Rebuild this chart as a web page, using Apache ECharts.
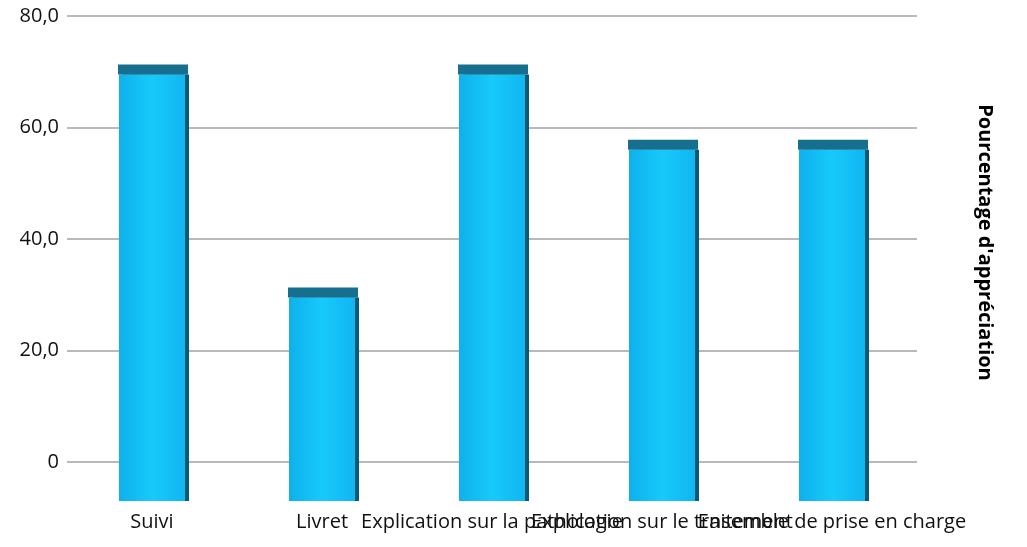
<!DOCTYPE html>
<html>
<head>
<meta charset="utf-8">
<style>
  html, body { margin: 0; padding: 0; background: #fff; }
  #chart { width: 1027px; height: 547px; }
</style>
</head>
<body>
<div id="chart"></div>
<script src="https://cdn.jsdelivr.net/npm/echarts@6/dist/echarts.min.js"></script>
<script type="text/javascript">
    var categories = ['Suivi', 'Livret', 'Explication sur la pathologie', 'Explication sur le traitement', 'Ensemble de prise en charge'];
    var values = [69.5, 29.5, 69.5, 56, 56];
    // the 3D floor: bars run a little below the 0 line
    var floorValues = [-7, -7, -7, -7, -7];
    var axisTitle = "Pourcentage d'appréciation";

    var barFill = new echarts.graphic.LinearGradient(0, 0, 1, 0, [
        {offset: 0, color: '#0fb0ec'},
        {offset: 0.5, color: '#17cafb'},
        {offset: 1, color: '#10b6f1'}
    ]);
    var barStyle = {
        color: barFill,
        shadowColor: '#0b5a74',
        shadowOffsetX: 4,
        shadowOffsetY: 0,
        shadowBlur: 0
    };

    var myChart = echarts.init(document.getElementById('chart'));
    var option = {
        animation: false,
        grid: {left: 67, right: 110, top: 16, bottom: 46},
        xAxis: {
            type: 'category',
            data: categories,
            axisLine: {show: false},
            axisTick: {show: false},
            axisLabel: {
                interval: 0,
                margin: 11,
                color: '#111',
                fontFamily: 'Open Sans',
                fontSize: 20
            }
        },
        yAxis: [
            {
                type: 'value',
                min: -7,
                max: 80,
                splitNumber: 5,
                axisLine: {show: false},
                axisTick: {show: false},
                axisLabel: {
                    showMinLabel: false,
                    margin: 8,
                    color: '#111',
                    fontFamily: 'Open Sans',
                    fontSize: 20,
                    formatter: function (v) {
                        if (v < 0) return '';
                        return v === 0 ? '0' : v.toFixed(1).replace('.', ',');
                    }
                },
                splitLine: {
                    showMinLine: false,
                    lineStyle: {color: '#b9b9b9', width: 2}
                }
            },
            {
                type: 'value',
                position: 'right',
                min: -7,
                max: 80,
                name: axisTitle,
                nameLocation: 'middle',
                nameRotate: -90,
                nameGap: 58,
                nameTextStyle: {
                    color: '#000',
                    fontFamily: 'Open Sans',
                    fontWeight: 'bold',
                    fontSize: 20,
                    padding: [0, 32, 0, 0]
                },
                axisLine: {show: false},
                axisTick: {show: false},
                axisLabel: {show: false},
                splitLine: {show: false}
            }
        ],
        series: [
            {
                type: 'bar',
                stack: 'bar',
                barWidth: 66,
                data: floorValues,
                itemStyle: barStyle
            },
            {
                type: 'bar',
                stack: 'bar',
                barWidth: 66,
                data: values,
                itemStyle: barStyle
            },
            {
                // dark top face of each bar
                type: 'scatter',
                data: values,
                symbol: 'rect',
                symbolSize: [70, 10],
                symbolOffset: [1, -5],
                itemStyle: {color: '#166f8e', opacity: 1},
                z: 3
            }
        ]
    };
    myChart.setOption(option);
</script>
</body>
</html>
